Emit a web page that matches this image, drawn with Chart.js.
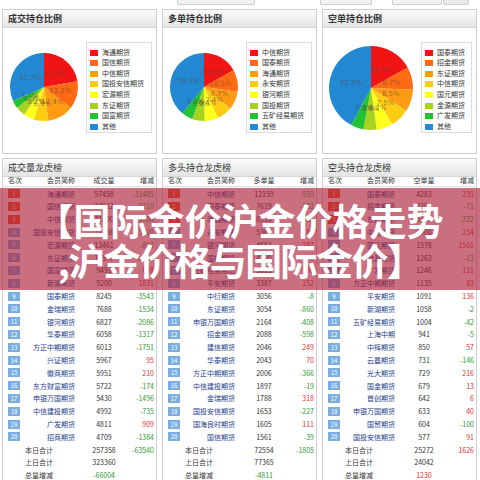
<!DOCTYPE html>
<html lang="zh">
<head>
<meta charset="UTF-8">
<title>国际金价 持仓龙虎榜</title>
<script src="https://cdn.jsdelivr.net/npm/chart.js"></script>
<style>
    body {
        margin: 0;
        width: 480px;
        height: 480px;
        overflow: hidden;
        position: relative;
        background: #fff;
        font-family: "Noto Sans CJK SC", "Noto Sans", sans-serif;
    }
    .panel {
        position: absolute;
        box-sizing: border-box;
        border: 1px solid #cfcfcf;
        background: #fff;
    }
    .ptitle {
        height: 17px;
        line-height: 17px;
        padding-left: 5px;
        font-size: 9px;
        font-weight: bold;
        color: #333;
        background: linear-gradient(#fbfbfb, #e4e4e4);
        border-bottom: 1px solid #d6d6d6;
    }
    .legend {
        position: absolute;
        box-sizing: border-box;
        border: 1px solid #dcdcdc;
        background: #fff;
    }
    .litem {
        position: absolute;
        left: 3px;
        height: 8px;
        font-size: 7px;
        line-height: 8px;
        color: #333;
        white-space: nowrap;
    }
    .litem i {
        display: inline-block;
        width: 8px;
        height: 6px;
        margin-right: 4px;
        vertical-align: -1px;
    }
    .cell {
        position: absolute;
        height: 10px;
        line-height: 10px;
        font-size: 7px;
        white-space: nowrap;
    }
    .badge {
        position: absolute;
        width: 12px;
        height: 9px;
        line-height: 9px;
        font-size: 6px;
        color: #fff;
        text-align: center;
    }
    canvas { position: absolute; }
    #banner {
        position: absolute;
        left: 0;
        top: 188px;
        width: 480px;
        height: 102px;
        background: rgba(170, 30, 55, 0.64);
        color: #fff;
        font-size: 37px;
        font-weight: bold;
        text-align: center;
        line-height: 40px;
        padding-top: 12px;
        box-sizing: border-box;
    }
    #banner span { letter-spacing: -1.6px; }
</style>
</head>
<body>
<div id="banner">【国际金价沪金价格走势<br><span>,沪金价格与国际金价】</span></div>

<script>
    // 饼图数据 (占比 %)
    const volNames = ['海通期货', '国信期货', '中信期货', '国投安信期货', '宏源期货', '东证期货', '国富期货', '其他'];
    const volShares = [22.3, 13.2, 12.4, 6.9, 5.2, 4.5, 3.7, 31.7];
    const longNames = ['中信期货', '国泰期货', '海通期货', '永安期货', '银河期货', '国投期货', '五矿经易期货', '其他'];
    const longShares = [16.8, 10.5, 8.7, 7.4, 6.4, 5.9, 5.3, 39.1];
    const shortNames = ['国泰期货', '招金期货', '东证期货', '中信期货', '国元期货', '金源期货', '广发期货', '其他'];
    const shortShares = [16.9, 8.7, 8.5, 7.5, 6.2, 5.0, 4.9, 42.2];
    const sliceColors = ['#f01414', '#ff6a12', '#ff9c14', '#ffcc14', '#ffff1e', '#a8d222', '#22c232', '#2288d2'];

    // 龙虎榜数据
    const volTableNames = ['海通期货', '国信期货', '中信期货', '国投安信期货', '宏源期货', '东证期货', '国富期货', '新湖期货', '国泰期货', '金瑞期货',
        '银河期货', '华泰期货', '方正中期期货', '兴证期货', '徽商期货', '东方财富期货', '申银万国期货', '中信建投期货', '广发期货', '招商期货'];
    const volTableQty = [57458, 34012, 31890, 17856, 13461, 11577, 9491, 9200, 8245, 7688,
        6827, 6058, 6013, 5967, 5951, 5722, 5430, 4992, 4811, 4709];
    const volTableChg = [-31485, -9210, -8804, -3120, -883, -2105, 648, 1831, -3543, -1534,
        -2086, -1317, -1751, 95, 210, -174, -1496, -735, 909, -1384];
    const volTotals = [257358, -63540, 323360, -66004];

    const longTableNames = ['中信期货', '国泰期货', '海通期货', '永安期货', '银河期货', '国投期货', '五矿经易期货', '平安期货', '中衍期货', '东证期货',
        '申银万国期货', '招金期货', '建信期货', '华泰期货', '方正中期期货', '中信建投期货', '金瑞期货', '国投安信期货', '国海良时期货', '国信期货'];
    const longTableQty = [12159, 7619, 6310, 5365, 4652, 4280, 3821, 3387, 3056, 3054,
        2164, 2088, 2046, 2043, 2006, 1897, 1788, 1653, 1605, 1561];
    const longTableChg = [-550, -132, -405, 186, 247, -96, 58, 152, -8, -860,
        -408, -598, 249, 70, -366, -19, 318, -227, 111, -39];
    const longTotals = [72554, -1805, 77365, -4811];

    const shortTableNames = ['国泰期货', '招金期货', '东证期货', '中信期货', '国元期货', '金源期货', '广发期货', '方正中期期货', '平安期货', '新湖期货',
        '五矿经易期货', '上海中期', '中辉期货', '云晨期货', '光大期货', '国金期货', '首创期货', '申银万国期货', '国贸期货', '国投安信期货'];
    const shortTableQty = [4283, 2200, 2150, 1900, 1578, 1263, 1246, 1135, 1091, 1058,
        1004, 941, 850, 731, 729, 679, 642, 633, 604, 577];
    const shortTableChg = [235, -71, -722, 234, 1501, -13, 111, 83, 136, -2,
        -42, -5, 57, -146, 216, 13, 6, 40, -100, 91];
    const shortTotals = [25272, 1626, 24042, 1230];

    const pieTitles = ['成交持仓比例', '多单持仓比例', '空单持仓比例'];
    const tableTitles = ['成交量龙虎榜', '多头持仓龙虎榜', '空头持仓龙虎榜'];
    const qtyHeaders = ['成交量', '多单量', '空单量'];

    const GREEN = '#2f9a2f';
    const RED = '#e23030';

    const sliceLabels = {
        id: 'sliceLabels',
        afterDatasetsDraw(chart) {
            const ctx = chart.ctx;
            const data = chart.data.datasets[0].data;
            ctx.save();
            ctx.font = '7px "DejaVu Sans", sans-serif';
            ctx.fillStyle = 'rgba(90, 70, 60, 0.6)';
            ctx.textAlign = 'center';
            ctx.textBaseline = 'middle';
            chart.getDatasetMeta(0).data.forEach((arc, i) => {
                const p = arc.getCenterPoint();
                ctx.fillText(data[i].toFixed(1) + '%', p.x, p.y);
            });
            ctx.restore();
        }
    };

    function el(tag, cls, style, text) {
        const d = document.createElement(tag);
        if (cls) d.className = cls;
        if (style) d.style.cssText = style;
        if (text !== undefined) d.textContent = text;
        document.body.insertBefore(d, document.getElementById('banner'));
        return d;
    }

    function piePanel(k, names, shares, cx, cy, r, lgX, lgW) {
        const px = 2 + k * 160;
        const p = el('div', 'panel', `left:${px}px;top:9px;width:155px;height:145px;`);
        p.innerHTML = `<div class="ptitle">${pieTitles[k]}</div>`;

        const c = el('canvas', null, `left:${cx - r - 1}px;top:${cy - r - 1}px;`);
        c.width = 2 * r + 2;
        c.height = 2 * r + 2;
        new Chart(c, {
            type: 'pie',
            data: {
                labels: names,
                datasets: [{ data: shares, backgroundColor: sliceColors, borderWidth: 0 }]
            },
            options: {
                responsive: false,
                animation: false,
                layout: { padding: 1 },
                plugins: { legend: { display: false }, tooltip: { enabled: false } }
            },
            plugins: [sliceLabels]
        });

        const lg = el('div', 'legend', `left:${lgX}px;top:42px;width:${lgW}px;height:91px;`);
        names.forEach((n, i) => {
            const it = document.createElement('div');
            it.className = 'litem';
            it.style.top = (4.7 + i * 10.57) + 'px';
            it.innerHTML = `<i style="background:${sliceColors[i]}"></i>${n}`;
            lg.appendChild(it);
        });
    }

    function tablePanel(k, names, qty, chg, totals) {
        const px = 2 + k * 160;
        const ox = k * 160;
        const p = el('div', 'panel', `left:${px}px;top:158px;width:155px;height:340px;`);
        p.innerHTML = `<div class="ptitle" style="font-weight:normal;font-size:9px">${tableTitles[k]}</div>`;
        el('div', null, `position:absolute;left:${px + 1}px;top:186px;width:153px;height:1px;background:#dedede;`);

        const hy = 175;
        el('div', 'cell', `left:${ox + 8}px;top:${hy}px;color:#333;`, '名次');
        el('div', 'cell', `left:${ox + 35}px;width:40px;text-align:right;top:${hy}px;color:#333;`, '会员简称');
        el('div', 'cell', `left:${ox + 84}px;width:40px;text-align:center;top:${hy}px;color:#333;`, qtyHeaders[k]);
        el('div', 'cell', `left:${ox + 114}px;width:40px;text-align:right;top:${hy}px;color:#333;`, '增减');

        names.forEach((n, i) => {
            const y = 193.6 + i * 12.8;
            el('div', 'badge', `left:${ox + 8}px;top:${y - 4.5}px;background:${i < 3 ? '#ec5a2c' : '#7aaee0'};`, String(i + 1));
            el('div', 'cell', `left:${ox + 20}px;width:55px;text-align:right;top:${y - 5}px;color:#1c3c8c;`, n);
            el('div', 'cell', `left:${ox + 84}px;width:40px;text-align:center;top:${y - 5}px;color:#333;`, String(qty[i]));
            el('div', 'cell', `left:${ox + 114}px;width:40px;text-align:right;top:${y - 5}px;color:${chg[i] < 0 ? GREEN : RED};`, String(chg[i]));
        });

        const sumLabels = ['本日合计', '上日合计', '总量增减'];
        sumLabels.forEach((s, j) => {
            const y = 193.6 + (20 + j) * 12.8;
            el('div', 'cell', `left:${ox + 25}px;top:${y - 5}px;color:#333;`, s);
        });
        let y = 193.6 + 20 * 12.8;
        el('div', 'cell', `left:${ox + 84}px;width:40px;text-align:center;top:${y - 5}px;color:#333;`, String(totals[0]));
        el('div', 'cell', `left:${ox + 114}px;width:40px;text-align:right;top:${y - 5}px;color:${totals[1] < 0 ? GREEN : RED};`, String(totals[1]));
        y += 12.8;
        el('div', 'cell', `left:${ox + 84}px;width:40px;text-align:center;top:${y - 5}px;color:#333;`, String(totals[2]));
        y += 12.8;
        el('div', 'cell', `left:${ox + 84}px;width:40px;text-align:center;top:${y - 5}px;color:${totals[3] < 0 ? GREEN : RED};`, String(totals[3]));
    }

    // 顶部小按钮
    el('div', null, 'position:absolute;left:177px;top:-4px;width:76px;height:7px;border:1px solid #ccc;border-radius:2px;background:#f2f2f2;');
    el('div', null, 'position:absolute;left:320px;top:-4px;width:50px;height:7px;border:1px solid #ccc;border-radius:2px;background:#f2f2f2;');
    el('div', null, 'position:absolute;left:392px;top:-4px;width:48px;height:7px;border:1px solid #ccc;border-radius:2px;background:#f2f2f2;');
    el('div', null, 'position:absolute;left:443px;top:-4px;width:24px;height:7px;border:1px solid #ccc;border-radius:2px;background:#e8e8e8;');

    piePanel(0, volNames, volShares, 44, 87, 34, 86, 66);
    piePanel(1, longNames, longShares, 204, 87, 34, 246, 66);
    piePanel(2, shortNames, shortShares, 371, 88, 42, 421, 51);

    tablePanel(0, volTableNames, volTableQty, volTableChg, volTotals);
    tablePanel(1, longTableNames, longTableQty, longTableChg, longTotals);
    tablePanel(2, shortTableNames, shortTableQty, shortTableChg, shortTotals);
</script>
</body>
</html>
